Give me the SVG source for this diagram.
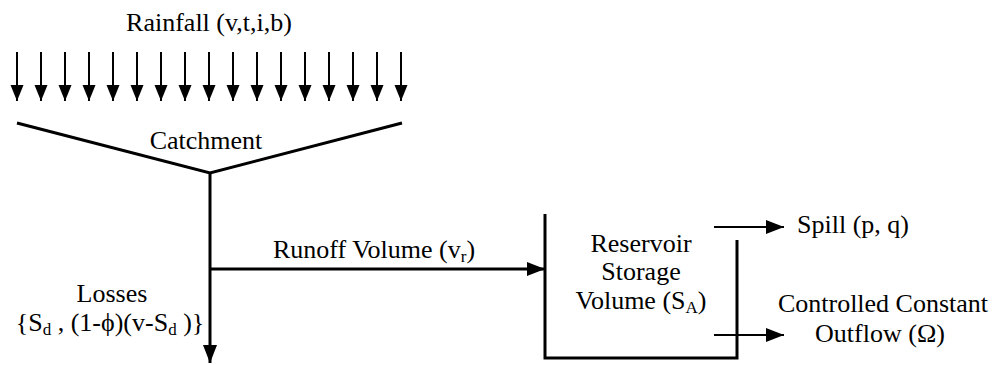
<svg xmlns="http://www.w3.org/2000/svg" width="993" height="365" viewBox="0 0 993 365">
<style>
text{font-family:'Liberation Serif','Times New Roman','DejaVu Serif',serif;font-size:26px;fill:#000}
.sub{font-size:17px}
.thick{stroke:#000;stroke-width:3;fill:none}
.thin{stroke:#000;stroke-width:2;fill:none}
</style>
<defs>
<marker id="ah" markerUnits="userSpaceOnUse" markerWidth="20" markerHeight="16" refX="18" refY="7" orient="auto">
<path d="M0,0 L18,7 L0,14 Z" fill="#000"/>
</marker>
<marker id="ahs" markerUnits="userSpaceOnUse" markerWidth="18" markerHeight="14" refX="16" refY="6.5" orient="auto">
<path d="M0,0 L16,6.5 L0,13 Z" fill="#000"/>
</marker>
</defs>
<rect width="993" height="365" fill="#fff"/>
<g id="rainfall">
<text x="209" y="31" text-anchor="middle">Rainfall (v,t,i,b)</text>
<g class="thin" marker-end="url(#ahs)">
<line x1="17" y1="52" x2="17" y2="101"/>
<line x1="41" y1="52" x2="41" y2="101"/>
<line x1="65" y1="52" x2="65" y2="101"/>
<line x1="89" y1="52" x2="89" y2="101"/>
<line x1="113" y1="52" x2="113" y2="101"/>
<line x1="137" y1="52" x2="137" y2="101"/>
<line x1="161" y1="52" x2="161" y2="101"/>
<line x1="185" y1="52" x2="185" y2="101"/>
<line x1="209" y1="52" x2="209" y2="101"/>
<line x1="233" y1="52" x2="233" y2="101"/>
<line x1="257" y1="52" x2="257" y2="101"/>
<line x1="281" y1="52" x2="281" y2="101"/>
<line x1="305" y1="52" x2="305" y2="101"/>
<line x1="329" y1="52" x2="329" y2="101"/>
<line x1="353" y1="52" x2="353" y2="101"/>
<line x1="377" y1="52" x2="377" y2="101"/>
<line x1="401" y1="52" x2="401" y2="101"/>
</g>
</g>
<g id="catchment">
<polyline class="thick" points="17,123 210,173 402,123"/>
<text x="206" y="149" text-anchor="middle">Catchment</text>
</g>
<g id="reservoir">
<polyline class="thick" points="545,214 545,358 737,358 737,240"/>
<text x="641" y="252" text-anchor="middle">Reservoir</text>
<text x="641" y="280" text-anchor="middle">Storage</text>
<text x="641" y="309" text-anchor="middle">Volume (S<tspan class="sub" dy="4">A</tspan><tspan dy="-4">)</tspan></text>
</g>
<g id="losses">
<text x="112" y="302" text-anchor="middle">Losses</text>
<text x="110" y="331" text-anchor="middle">{S<tspan class="sub" dy="4">d</tspan><tspan dy="-4"> , (1-ϕ)(v-S</tspan><tspan class="sub" dy="4">d</tspan><tspan dy="-4"> )}</tspan></text>
</g>
<g id="spill">
<text x="797" y="233">Spill (p, q)</text>
</g>
<g id="outflow">
<text x="883" y="312" text-anchor="middle">Controlled Constant</text>
<text x="880" y="342" text-anchor="middle">Outflow (Ω)</text>
</g>
<g id="connectors">
<line class="thick" x1="210" y1="173" x2="210" y2="363" marker-end="url(#ah)"/>
<line class="thick" x1="210" y1="269" x2="545" y2="269" marker-end="url(#ah)"/>
<text x="374" y="258" text-anchor="middle">Runoff Volume (v<tspan class="sub" dy="4">r</tspan><tspan dy="-4">)</tspan></text>
<line class="thin" x1="714" y1="227" x2="784" y2="227" marker-end="url(#ah)"/>
<line class="thin" x1="714" y1="335" x2="784" y2="335" marker-end="url(#ah)"/>
</g>
</svg>
